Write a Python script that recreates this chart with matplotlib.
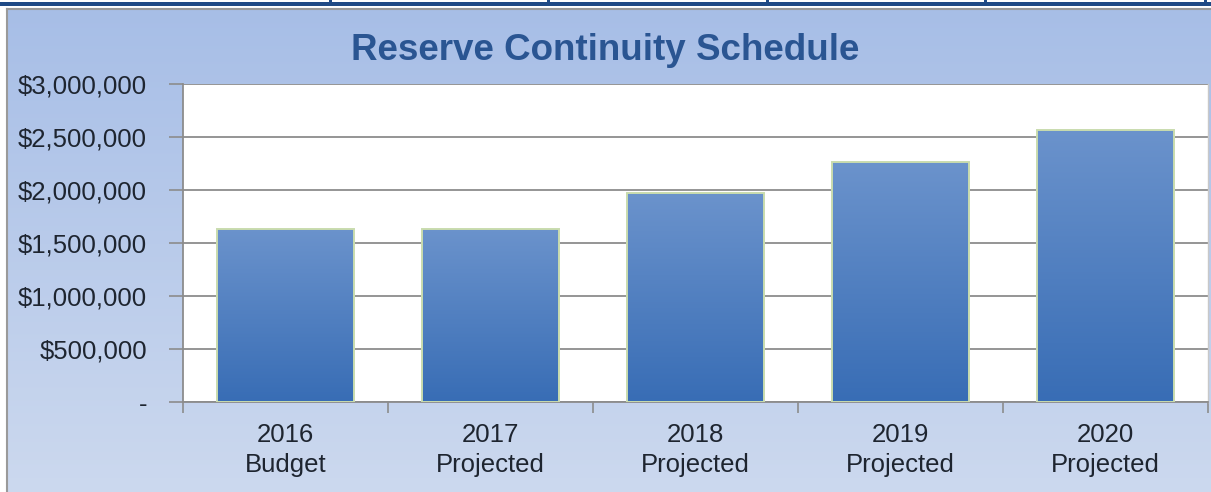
import numpy as np
import matplotlib
matplotlib.use("Agg")
import matplotlib.pyplot as plt
from matplotlib.patches import Rectangle
from matplotlib.ticker import FuncFormatter

plt.rcParams["font.family"] = ["Liberation Sans", "DejaVu Sans"]

# Reserve balances by year
years = ["2016", "2017", "2018", "2019", "2020"]
kinds = ["Budget", "Projected", "Projected", "Projected", "Projected"]
reserves = [1636000, 1636000, 1970000, 2262000, 2570000]
y_ticks = [0, 500000, 1000000, 1500000, 2000000, 2500000, 3000000]

W, H = 1211, 492
TITLE_COLOR = "#2a5592"
LABEL_COLOR = "#1e2530"
GRID_COLOR = "#8c8c8c"

fig = plt.figure(figsize=(W / 100, H / 100), dpi=100)
fig.patch.set_facecolor("white")

# ---- chart frame: gradient backdrop and table rule above it ----
bg = fig.add_axes([0, 0, 1, 1])
bg.set_xlim(0, W)
bg.set_ylim(H, 0)
bg.axis("off")

grad = np.linspace(0, 1, 256)[:, None]
top_rgb = np.array([0.655, 0.745, 0.905])
bot_rgb = np.array([0.800, 0.850, 0.935])
img = top_rgb + (bot_rgb - top_rgb) * grad[..., None]
img = np.repeat(img, 2, axis=1)
bg.imshow(img, extent=[7, W, H, 9], aspect="auto", interpolation="bicubic", zorder=0)
bg.plot([7, 7], [9, H], color="#9a9a9a", lw=1.5, zorder=1)
bg.plot([7, W], [9, 9], color="#9a9a9a", lw=1.5, zorder=1)

bg.add_patch(Rectangle((0, 1.5), W, 4, color="#1f4a86", lw=0, zorder=2))
for sx in [330, 548, 767, 985, 1205]:
    bg.add_patch(Rectangle((sx - 1, 0), 2.5, 5.5, color="#1f4a86", lw=0, zorder=2))

fig.text(0.5, 1 - 51 / H, "Reserve Continuity Schedule", ha="center", va="center",
         fontsize=26.5, fontweight="bold", color=TITLE_COLOR)

# ---- plot area ----
ax = fig.add_axes([183 / W, 1 - 402 / H, (1208 - 183) / W, (402 - 84) / H])
ax.set_facecolor("white")

x = np.arange(len(years))
bars = ax.bar(x, reserves, width=0.665, color="none", edgecolor="#c9dcae",
              linewidth=1.4, zorder=3)

# vertical shading inside each bar
shade = np.linspace(0, 1, 256)[:, None]
bar_top = np.array([0.420, 0.576, 0.800])
bar_bot = np.array([0.220, 0.427, 0.710])
bar_img = bar_top + (bar_bot - bar_top) * shade[..., None]
bar_img = np.repeat(bar_img, 2, axis=1)
for b in bars:
    bx, bw, bh = b.get_x(), b.get_width(), b.get_height()
    im = ax.imshow(bar_img, extent=[bx, bx + bw, 0, bh], aspect="auto",
                   interpolation="bicubic", zorder=2)
    im.set_clip_path(b)

ax.set_xlim(-0.5, len(years) - 0.5)
ax.set_ylim(0, 3000000)
ax.set_yticks(y_ticks)
ax.yaxis.set_major_formatter(FuncFormatter(lambda v, p: "-" if v == 0 else f"${v:,.0f}"))
ax.tick_params(axis="y", length=10, width=1.2, color=GRID_COLOR, pad=16,
               labelsize=18.5, labelcolor=LABEL_COLOR)

ax.set_xticks(x)
ax.set_xticklabels([f"{y}\n{k}" for y, k in zip(years, kinds)], linespacing=1.35)
ax.set_xticks(np.arange(-0.5, len(years)), minor=True)
ax.tick_params(axis="x", which="major", length=0, pad=15,
               labelsize=18.5, labelcolor=LABEL_COLOR)
ax.tick_params(axis="x", which="minor", length=8, width=1.2, color=GRID_COLOR)

ax.yaxis.grid(True, color=GRID_COLOR, lw=1.3)
ax.set_axisbelow(True)

for side in ["left", "bottom"]:
    ax.spines[side].set_color(GRID_COLOR)
    ax.spines[side].set_linewidth(1.3)
ax.spines["top"].set_visible(False)
ax.spines["right"].set_color("#c8c8c8")
ax.spines["right"].set_linewidth(1.0)

fig.savefig("out.png", dpi=100)
